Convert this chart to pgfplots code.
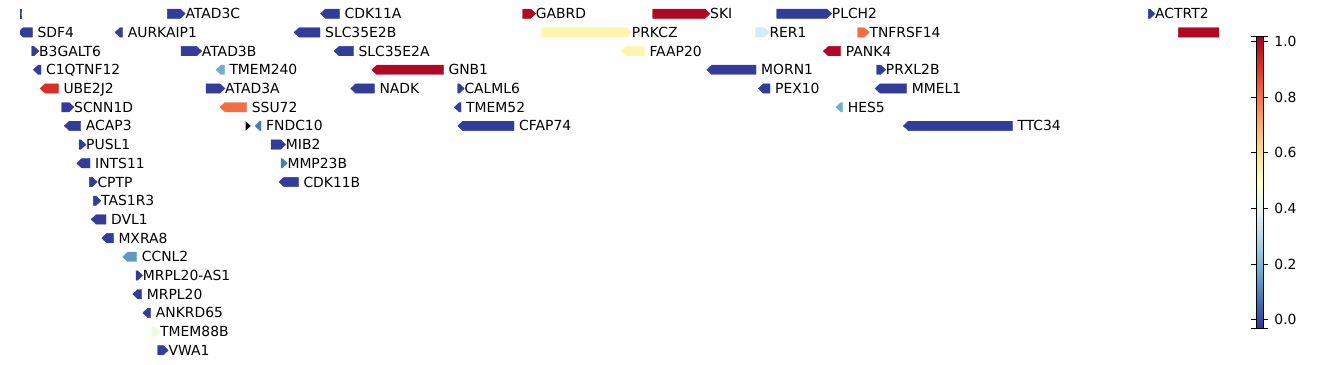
\documentclass[border=0pt]{standalone}
\usepackage{fontspec}
\setmainfont{DejaVu Sans}
\usepackage{pgfplots}
\pgfplotsset{compat=1.18}
\usepgfplotslibrary{patchplots}
\pgfplotsset{colormap={RdYlBur}{rgb255=(49,54,149) rgb255=(69,117,180) rgb255=(116,173,209) rgb255=(171,217,233) rgb255=(224,243,248) rgb255=(255,255,191) rgb255=(254,224,144) rgb255=(253,174,97) rgb255=(244,109,67) rgb255=(215,48,39) rgb255=(165,0,38)}}
\newcommand\genefont{\fontsize{13.9}{16}\selectfont}
% right-pointing gene: start, end, row, value, label
\newcommand\gR[5]{%
  \pgfmathsetmacro\hl{min(5,#2-#1)}%
  \pgfmathsetmacro\yt{#3-0.25}%
  \pgfmathsetmacro\yb{#3+0.25}%
  \pgfmathsetmacro\xh{#2-\hl}%
  \addplot[patch,patch type=polygon,vertex count=5,shader=flat,draw=none,point meta=explicit] coordinates {(#1,\yt)[#4] (\xh,\yt)[#4] (#2,#3)[#4] (\xh,\yb)[#4] (#1,\yb)[#4]};%
  \edef\tmp{\noexpand\node[anchor=west,inner sep=0pt,text height=10.1pt,text depth=0pt,font=\noexpand\genefont] at (axis cs:#2,#3) {#5};}\tmp
}
% left-pointing gene
\newcommand\gL[5]{%
  \pgfmathsetmacro\hl{min(5,#2-#1)}%
  \pgfmathsetmacro\yt{#3-0.25}%
  \pgfmathsetmacro\yb{#3+0.25}%
  \pgfmathsetmacro\xh{#1+\hl}%
  \pgfmathsetmacro\xl{#2+5}%
  \addplot[patch,patch type=polygon,vertex count=5,shader=flat,draw=none,point meta=explicit] coordinates {(#1,#3)[#4] (\xh,\yt)[#4] (#2,\yt)[#4] (#2,\yb)[#4] (\xh,\yb)[#4]};%
  \edef\tmp{\noexpand\node[anchor=west,inner sep=0pt,text height=10.1pt,text depth=0pt,font=\noexpand\genefont] at (axis cs:\xl,#3) {#5};}\tmp
}
\begin{document}
\begin{tikzpicture}
\useasboundingbox (0,0) rectangle (1338pt,364pt);
\begin{axis}[
  at={(20pt,4.35pt)}, anchor=south west,
  scale only axis, width=1199pt, height=355.3pt,
  xmin=20, xmax=1219, ymin=-0.5, ymax=18.5, y dir=reverse,
  hide axis, clip=true,
  colormap name=RdYlBur,
  point meta min=-0.03, point meta max=1.02,
  colorbar,
  colorbar shift/.style={xshift=0pt},
  colorbar style={
    at={(1256pt,36pt)}, anchor=south west,
    width=7pt, height=292pt,
    ytick={0,0.2,0.4,0.6,0.8,1.0},
    extra y ticks={-0.03,1.02}, extra y tick labels={},
    yticklabel style={font=\genefont, xshift=3pt,
      /pgf/number format/.cd, fixed, fixed zerofill, precision=1, assume math mode=true},
    tick align=outside, major tick length=4.9pt,
    tick style={black, line width=0.8pt},
    axis line style={line width=0.8pt},
  },
]
% row 0
\addplot[patch,patch type=polygon,vertex count=5,shader=flat,draw=none,point meta=explicit] coordinates {(19.5,-0.25)[-0.02] (21,-0.25)[-0.02] (21,0)[-0.02] (21,0.25)[-0.02] (19.5,0.25)[-0.02]};
\gR{167.3}{185.3}{0}{-0.02}{ATAD3C}
\gL{320.5}{339.5}{0}{-0.02}{CDK11A}
\gR{522.7}{535.7}{0}{1.0}{GABRD}
\gR{652.7}{710}{0}{1.0}{SKI}
\gR{776.7}{831.7}{0}{-0.02}{PLCH2}
\gR{1148.3}{1155}{0}{-0.02}{ACTRT2}
% row 1
\gL{18}{32.3}{1}{-0.02}{SDF4}
\gL{115}{122.7}{1}{-0.02}{AURKAIP1}
\gL{294}{320}{1}{-0.02}{SLC35E2B}
\gR{541.7}{631.7}{1}{0.53}{PRKCZ}
\gR{755.7}{769.3}{1}{0.36}{RER1}
\gR{857.7}{869.3}{1}{0.81}{TNFRSF14}
\gR{1178.3}{1240}{1}{1.0}{}
% row 2
\gR{31.7}{39}{2}{-0.02}{B3GALT6}
\gR{181}{201.7}{2}{-0.02}{ATAD3B}
\gL{334}{353.3}{2}{-0.02}{SLC35E2A}
\gL{621}{644.3}{2}{0.53}{FAAP20}
\gL{823.3}{840.7}{2}{1.0}{PANK4}
% row 3
\gL{33.3}{41}{3}{-0.02}{C1QTNF12}
\gL{216}{224.3}{3}{0.18}{TMEM240}
\gL{371.7}{443.3}{3}{1.0}{GNB1}
\gL{706.7}{756}{3}{-0.02}{MORN1}
\gR{876.7}{885.7}{3}{-0.02}{PRXL2B}
% row 4
\gL{40}{58.3}{4}{0.915}{UBE2J2}
\gR{206}{225}{4}{-0.02}{ATAD3A}
\gL{350.7}{374.3}{4}{-0.02}{NADK}
\gR{457.7}{464.3}{4}{-0.02}{CALML6}
\gL{758.3}{770}{4}{-0.02}{PEX10}
\gL{875}{906.7}{4}{-0.02}{MMEL1}
% row 5
\gR{61.7}{74}{5}{-0.02}{SCNN1D}
\gL{220}{246.7}{5}{0.81}{SSU72}
\gL{454.3}{461}{5}{-0.02}{TMEM52}
\gL{836}{842.7}{5}{0.18}{HES5}
% row 6
\gL{64.3}{80.7}{6}{-0.02}{ACAP3}
\addplot[fill=black,draw=none] coordinates {(245.7,5.75) (250.7,6) (245.7,6.25) (245.7,5.75)};
\gL{255}{261}{6}{0.085}{FNDC10}
\gL{457.7}{514}{6}{-0.02}{CFAP74}
\gL{903.3}{1012.3}{6}{-0.02}{TTC34}
% rows 7-18
\gR{79}{86}{7}{-0.02}{PUSL1}
\gR{271}{285.7}{7}{-0.02}{MIB2}
\gL{76.7}{90}{8}{-0.02}{INTS11}
\gR{281}{287.3}{8}{0.085}{MMP23B}
\gR{89.3}{97.3}{9}{-0.02}{CPTP}
\gL{279}{298.3}{9}{-0.02}{CDK11B}
\gR{93.3}{101}{10}{-0.02}{TAS1R3}
\gL{91}{106}{11}{-0.02}{DVL1}
\gL{101.7}{113.3}{12}{-0.02}{MXRA8}
\gL{122.7}{136.7}{13}{0.14}{CCNL2}
\gR{136}{142.7}{14}{-0.02}{MRPL20-AS1}
\gL{132.7}{141.7}{15}{-0.02}{MRPL20}
\gL{142.7}{150.7}{16}{-0.02}{ANKRD65}
\gR{151.7}{160}{17}{0.44}{TMEM88B}
\gR{157.7}{168.3}{18}{-0.02}{VWA1}
\end{axis}
\end{tikzpicture}
\end{document}
